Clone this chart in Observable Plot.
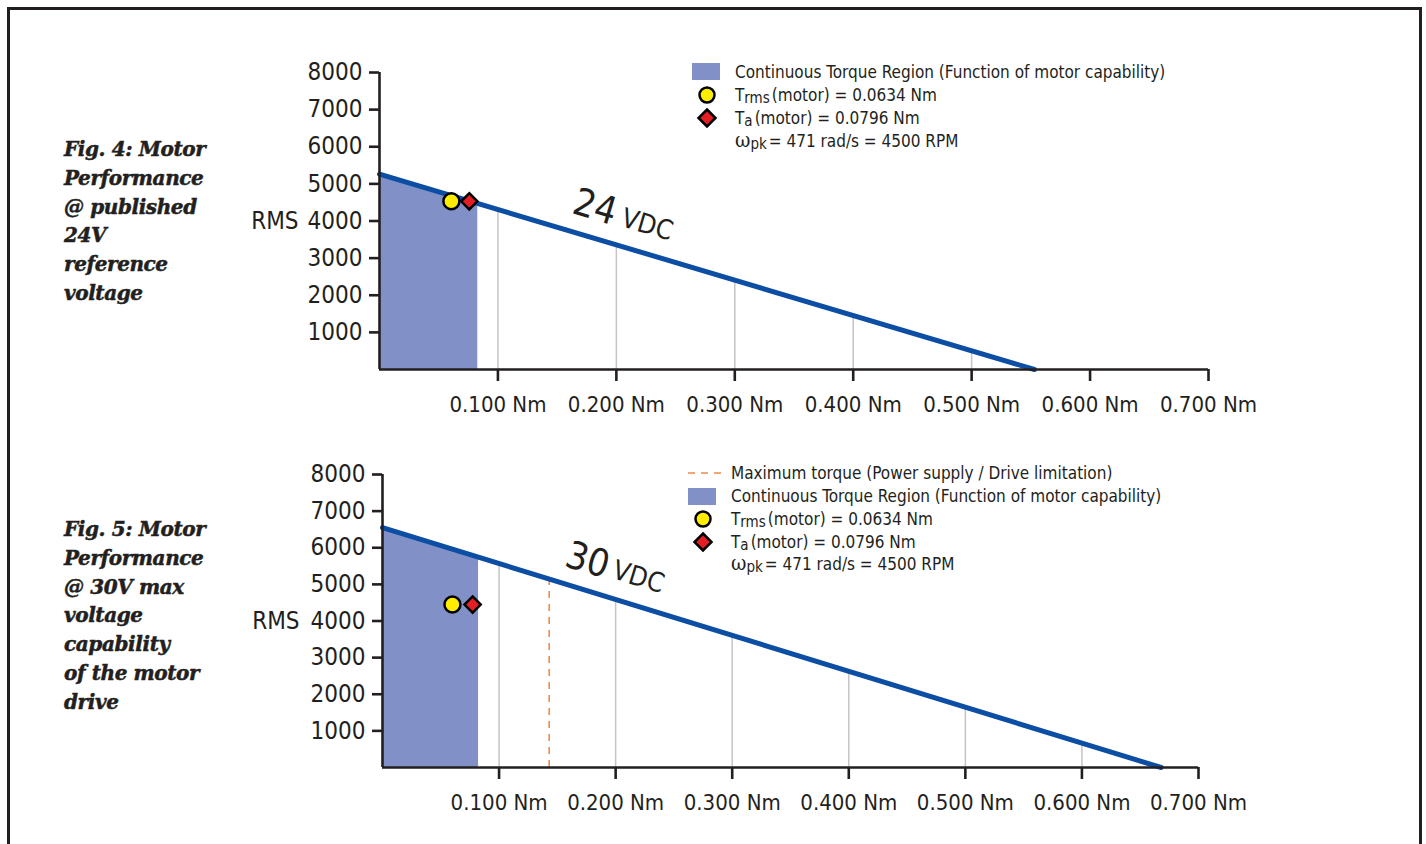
<!DOCTYPE html>
<html>
<head>
<meta charset="utf-8">
<script src="https://cdn.jsdelivr.net/npm/d3@7"></script>
<script src="https://cdn.jsdelivr.net/npm/@observablehq/plot@0.6"></script>
<style>
  html, body { margin: 0; padding: 0; background: #fff; overflow: hidden; width: 1426px; height: 844px; }
  #page { position: relative; width: 1426px; height: 844px; }
  #frame { position: absolute; left: 7px; top: 7px; width: 1409px; height: 900px; border: 3px solid #231f20; box-sizing: content-box; }
  .chart { position: absolute; left: 0; }
  .caption { position: absolute; left: 64px; font-family: "DejaVu Serif", serif; font-weight: bold; font-style: italic; font-size: 20px; line-height: 28.8px; color: #231f20; letter-spacing: -0.4px; -webkit-text-stroke: 0.5px #231f20; }
  .legend { position: absolute; font-family: "Liberation Sans Narrow", "DejaVu Sans Condensed", "Arial Narrow", sans-serif; font-stretch: condensed; font-size: 17px; color: #231f20; }
  .legend .row { display: flex; align-items: center; height: 23px; white-space: nowrap; }
  .legend .sym { width: 43px; flex: none; display: flex; align-items: center; }
  .legend sub { font-size: 15px; position: relative; top: 2px; vertical-align: baseline; line-height: 0; margin-right: 2px; }
  .legend .omega { font-family: "DejaVu Serif", serif; font-size: 21px; line-height: 0; }
</style>
</head>
<body>
<div id="page">
  <div id="frame"></div>
</div>
<script>
// ---------- data ----------
const torqueTicks = [0.1, 0.2, 0.3, 0.4, 0.5, 0.6, 0.7];
const rpmTicks = [1000, 2000, 3000, 4000, 5000, 6000, 7000, 8000];

// Fig. 4 – 24 VDC
const line24Torque = [0, 0.553];
const line24Rpm = [5260, 0];
const region24Torque = [0, 0.083];
const region24Rpm = [5260, 4470];
const grid24 = [0.1, 0.2, 0.3, 0.4, 0.5];
const trms24 = [0.0607, 4530];
const ta24 = [0.0758, 4530];
const label24Pos = [[0.182, 4370], [0.226, 3895]];

// Fig. 5 – 30 VDC
const line30Torque = [0, 0.668];
const line30Rpm = [6550, 0];
const region30Torque = [0, 0.0824];
const region30Rpm = [6550, 5742];
const grid30 = [0.1, 0.2, 0.3, 0.4, 0.5, 0.6];
const trms30 = [0.060, 4450];
const ta30 = [0.0773, 4450];
const maxTorque30 = [0.143, 5150];
const label30Pos = [[0.176, 5656], [0.2196, 5196]];

const NARROW = '"Liberation Sans Narrow", "DejaVu Sans Condensed", "Arial Narrow", sans-serif';
const INK = "#231f20";
const BLUE = "#0c4ea3";
const REGION = "#8190c7";
const GRID = "#c4c4c4";

function makeChart(o) {
  const line = o.lineT.map((t, i) => ({t, rpm: o.lineR[i]}));
  const region = o.regT.map((t, i) => ({t, rpm: o.regR[i]}));
  const along = d3.scaleLinear().domain(o.lineT).range(o.lineR);
  const marks = [
    Plot.areaY(region, {x: "t", y: "rpm", fill: REGION}),
    Plot.ruleX(o.grid, {x: d => d, y1: 0, y2: d => along(d), stroke: GRID, strokeWidth: 1.5}),
  ];
  if (o.maxT) {
    marks.push(Plot.ruleX([o.maxT], {x: d => d[0], y1: 0, y2: d => d[1], stroke: "#ef8a4a", strokeWidth: 1.6, strokeDasharray: "7,6"}));
  }
  marks.push(
    Plot.line(line, {x: "t", y: "rpm", stroke: BLUE, strokeWidth: 5, strokeLinecap: "round"}),
    Plot.ruleY([0], {x1: 0, x2: 0.7, stroke: INK, strokeWidth: 2.6}),
    Plot.ruleX([0], {y1: 0, y2: 8000, stroke: INK, strokeWidth: 2.6}),
    Plot.axisX({ticks: torqueTicks, tickFormat: d => d.toFixed(3) + " Nm", tickSize: 12, tickPadding: 15, fontSize: 22, strokeWidth: 2.6, stroke: INK, label: null}),
    Plot.axisY({ticks: rpmTicks, tickFormat: d => String(d), tickSize: 10, tickPadding: 7, fontSize: 24, strokeWidth: 2.6, stroke: INK, label: null}),
    Plot.text([[0, 4000]], {x: d => d[0], y: d => d[1], text: () => "RMS", textAnchor: "end", dx: o.rmsDx, fontSize: 24, fill: INK}),
    Plot.dot([o.trms], {x: d => d[0], y: d => d[1], r: 8, fill: "#ffed00", stroke: "#000", strokeWidth: 2.5}),
    Plot.dot([o.ta], {x: d => d[0], y: d => d[1], r: 7.3, symbol: "diamond2", fill: "#e31e24", stroke: "#000", strokeWidth: 2.5}),
    Plot.text([o.labelPos[0]], {x: d => d[0], y: d => d[1], text: () => o.volts, rotate: o.rot, fontSize: 38, fill: INK, textAnchor: "middle", lineAnchor: "middle"}),
    Plot.text([o.labelPos[1]], {x: d => d[0], y: d => d[1], text: () => "VDC", rotate: o.rot, fontSize: 27, fill: INK, textAnchor: "middle", lineAnchor: "middle"})
  );
  return Plot.plot({
    width: 1426, height: o.height,
    marginLeft: o.ml, marginRight: o.mr, marginTop: o.mt, marginBottom: o.mb,
    x: {domain: [0, 0.7]},
    y: {domain: [0, 8000]},
    style: {background: "transparent", fontFamily: NARROW, color: INK, overflow: "visible", maxWidth: "none"},
    marks
  });
}

const page = document.getElementById("page");

const c1 = makeChart({
  lineT: line24Torque, lineR: line24Rpm, regT: region24Torque, regR: region24Rpm,
  grid: grid24, trms: trms24, ta: ta24, labelPos: label24Pos, volts: "24", rot: 16.5,
  height: 430, ml: 379, mr: 218, mt: 72, mb: 61, rmsDx: -81
});
c1.classList.add("chart"); c1.style.top = "0px";
page.appendChild(c1);

const c2 = makeChart({
  lineT: line30Torque, lineR: line30Rpm, regT: region30Torque, regR: region30Rpm,
  grid: grid30, trms: trms30, ta: ta30, maxT: maxTorque30, labelPos: label30Pos, volts: "30", rot: 17,
  height: 428, ml: 382, mr: 228, mt: 74, mb: 61, rmsDx: -83
});
c2.classList.add("chart"); c2.style.top = "400px";
page.appendChild(c2);

// ---------- captions ----------
function caption(lines, top) {
  const d = document.createElement("div");
  d.className = "caption";
  d.style.top = top + "px";
  d.innerHTML = lines.join("<br>");
  page.appendChild(d);
}
caption(["Fig. 4: Motor", "Performance", "@ published", "24V", "reference", "voltage"], 135);
caption(["Fig. 5: Motor", "Performance", "@ 30V max", "voltage", "capability", "of the motor", "drive"], 515);

// ---------- legends ----------
const circleSym = '<svg width="22" height="22" style="margin-left:4px"><circle cx="11" cy="11" r="7.5" fill="#ffed00" stroke="#000" stroke-width="2.5"/></svg>';
const diamondSym = '<svg width="22" height="22" style="margin-left:4px"><path d="M11,2.5L19.5,11L11,19.5L2.5,11Z" fill="#e31e24" stroke="#000" stroke-width="2.5"/></svg>';
const regionSym = '<div style="width:28px;height:17px;background:' + REGION + '"></div>';
const dashSym = '<svg width="36" height="6"><line x1="0" y1="3" x2="36" y2="3" stroke="#ef8a4a" stroke-width="1.6" stroke-dasharray="7,6"/></svg>';

const rowsCommon = [
  [regionSym, "Continuous Torque Region (Function of motor capability)"],
  [circleSym, "T<sub>rms</sub>(motor) = 0.0634 Nm"],
  [diamondSym, "T<sub>a</sub>(motor) = 0.0796 Nm"],
  ["", '<span class="omega">ω</span><sub>pk</sub>= 471 rad/s = 4500 RPM']
];
function legend(rows, left, top, rowH) {
  const d = document.createElement("div");
  d.className = "legend";
  d.style.left = left + "px";
  d.style.top = top + "px";
  d.innerHTML = rows.map(r => '<div class="row" style="height:' + rowH + 'px"><div class="sym">' + r[0] + '</div><div>' + r[1] + '</div></div>').join("");
  page.appendChild(d);
}
legend(rowsCommon, 692, 60, 23);
legend([[dashSym, "Maximum torque (Power supply / Drive limitation)"]].concat(rowsCommon), 688, 462, 22.75);
</script>
</body>
</html>
